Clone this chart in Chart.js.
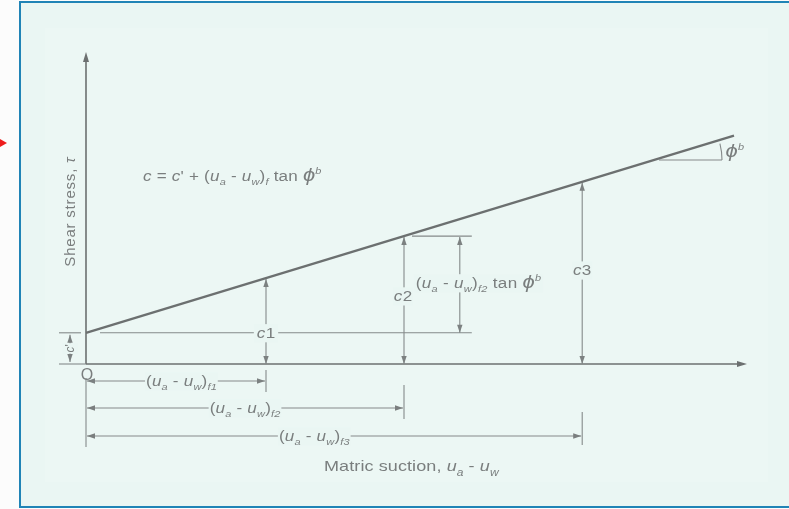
<!DOCTYPE html>
<html>
<head>
<meta charset="utf-8">
<script src="https://cdn.jsdelivr.net/npm/chart.js@4.4.1/dist/chart.umd.min.js"></script>
<style>
  html, body { margin: 0; padding: 0; background: #fcfcfc; }
  canvas { display: block; }
</style>
</head>
<body>
<canvas id="chart" width="789" height="509"></canvas>
<script>
// failure envelope: shear strength against matric suction
const suction = [0, 10.8];
const strength = [1.0, 7.32];
const cPrime = 1.0;
// the three marked states f1, f2, f3
const suctionMarks = [3.0, 5.3, 8.27];
const cohesionMarks = [2.755, 4.10, 5.84];
const markNames = ['1', '2', '3'];
const xMax = 11;
const yMax = 10;

const ink = '#7a7e7e';
const lineInk = '#6c7070';
const paper = '#eaf6f3';
const family = '"Liberation Sans", Arial, sans-serif';
const wide = 1.22; // lettering is drawn a bit wide

function fontFor(s, size) {
    if (s === 'sub' || s === 'sup') return `italic ${Math.round(size * 0.66)}px ${family}`;
    if (s === 'i') return `italic ${size}px ${family}`;
    if (s === 'big') return `italic ${Math.round(size * 1.25)}px ${family}`;
    return `${size}px ${family}`;
}

function offsetFor(s, size) {
    if (s === 'sub') return size * 0.3;
    if (s === 'sup') return -size * 0.5;
    return 0;
}

// runs of text with italic / subscript / superscript pieces
function runsWidth(ctx, runs, size, sp = 0, k = 1) {
    let w = 0;
    runs.forEach(([t, s]) => {
        ctx.font = fontFor(s, size);
        for (const ch of t) w += ctx.measureText(ch).width * k + sp;
    });
    return w - sp;
}

function drawRuns(ctx, runs, x, base, size, sp = 0, k = 1) {
    runs.forEach(([t, s]) => {
        ctx.font = fontFor(s, size);
        const dy = offsetFor(s, size);
        for (const ch of t) {
            ctx.save();
            ctx.translate(x, base + dy);
            ctx.scale(k, 1);
            ctx.fillText(ch, 0, 0);
            ctx.restore();
            x += ctx.measureText(ch).width * k + sp;
        }
    });
}

// centred label with a paper patch behind it so lines break around it
function label(ctx, runs, cx, cy, size, pad = 2, sp = 0, k = 1) {
    const w = runsWidth(ctx, runs, size, sp, k);
    ctx.fillStyle = paper;
    ctx.fillRect(cx - w / 2 - pad, cy - size * 0.62, w + pad * 2, size * 1.3);
    ctx.fillStyle = ink;
    drawRuns(ctx, runs, cx - w / 2, cy + size * 0.36, size, sp, k);
}

function head(ctx, x, y, dir, L = 8, W = 2.7) {
    ctx.beginPath();
    ctx.moveTo(x, y);
    if (dir === 'up') { ctx.lineTo(x - W, y + L); ctx.lineTo(x + W, y + L); }
    if (dir === 'down') { ctx.lineTo(x - W, y - L); ctx.lineTo(x + W, y - L); }
    if (dir === 'left') { ctx.lineTo(x + L, y - W); ctx.lineTo(x + L, y + W); }
    if (dir === 'right') { ctx.lineTo(x - L, y - W); ctx.lineTo(x - L, y + W); }
    ctx.closePath();
    ctx.fill();
}

function seg(ctx, x1, y1, x2, y2) {
    ctx.beginPath();
    ctx.moveTo(x1, y1);
    ctx.lineTo(x2, y2);
    ctx.stroke();
}

function dimV(ctx, x, top, bottom) {
    seg(ctx, x, top, x, bottom);
    head(ctx, x, top, 'up');
    head(ctx, x, bottom, 'down');
}

function dimH(ctx, left, right, y) {
    seg(ctx, left, y, right, y);
    head(ctx, left, y, 'left');
    head(ctx, right, y, 'right');
}

const suctionRuns = sub => [['(', ''], ['u', 'i'], ['a', 'sub'], [' - ', ''], ['u', 'i'], ['w', 'sub'], [')', ''], [sub, 'sub']];

const diagram = {
    id: 'diagram',
    beforeDraw(chart) {
        const ctx = chart.ctx;
        ctx.save();
        ctx.fillStyle = '#fcfcfc';
        ctx.fillRect(0, 0, chart.width, chart.height);
        ctx.fillStyle = paper;
        ctx.fillRect(21, 3, chart.width - 21, 503);
        ctx.fillStyle = '#ecf7f4';
        ctx.fillRect(45, 28, 723, 454);
        ctx.fillStyle = '#2084b6';
        ctx.fillRect(19, 1, chart.width - 19, 2);
        ctx.fillRect(19, 1, 2, 507);
        ctx.fillRect(19, 506, chart.width - 19, 2);
        // red pointer at the margin
        ctx.fillStyle = '#ee1c1c';
        ctx.beginPath();
        ctx.moveTo(-2, 138);
        ctx.lineTo(7, 143);
        ctx.lineTo(-2, 148);
        ctx.closePath();
        ctx.fill();
        ctx.restore();
    },
    beforeDatasetsDraw(chart) {
        const ctx = chart.ctx;
        const px = v => chart.scales.x.getPixelForValue(v);
        const py = v => chart.scales.y.getPixelForValue(v);
        const x0 = px(0), y0 = py(0), yc = py(cPrime);
        ctx.save();
        ctx.strokeStyle = lineInk;
        ctx.fillStyle = lineInk;

        // axes
        ctx.lineWidth = 1.6;
        seg(ctx, x0, y0, x0, py(yMax) + 4);
        head(ctx, x0, py(yMax), 'up', 10, 3);
        seg(ctx, x0, y0, px(xMax) - 4, y0);
        head(ctx, px(xMax) + 1, y0, 'right', 10, 3);

        ctx.lineWidth = 1.1;
        ctx.strokeStyle = '#858a8a';
        ctx.fillStyle = '#7c8181';
        // extension line below the origin
        seg(ctx, x0, y0 + 14, x0, y0 + 83);

        // c' dimension
        seg(ctx, x0 - 27, yc, x0 - 5, yc);
        seg(ctx, x0 - 27, y0, x0, y0);
        dimV(ctx, x0 - 16, yc + 2, y0 - 2);

        // c' reference level
        seg(ctx, x0 + 14, yc, px(6.43), yc);

        // c1, c2, c3 from the axis up to the envelope
        suctionMarks.forEach((s, i) => dimV(ctx, px(s), py(cohesionMarks[i]) + 1, y0));

        // suction increment above c' at f2
        const xInc = px(6.23);
        seg(ctx, px(suctionMarks[1]) + 8, py(cohesionMarks[1]), px(6.43), py(cohesionMarks[1]));
        dimV(ctx, xInc, py(cohesionMarks[1]) + 1, yc);

        // angle marker at the end of the envelope
        const sA = 9.55, sB = 10.6;
        const slope = (strength[1] - strength[0]) / (suction[1] - suction[0]);
        const yA = py(strength[0] + slope * (sA - suction[0]));
        const r = px(sB) - px(sA);
        seg(ctx, px(sA), yA + 1.5, px(sB), yA + 1.5);
        const ang = Math.atan2(py(0) - py(slope), px(1) - px(0));
        ctx.beginPath();
        ctx.arc(px(sA) - 3, yA + 1.5, r + 3, -ang * 0.85, 0);
        ctx.stroke();

        // suction dimensions below the axis
        const rows = [381, 408, 436];
        const ticks = [[370, 392], [385, 419], [412, 445]];
        const labelAt = [0.53, 0.5, 0.46];
        suctionMarks.forEach((s, i) => {
            seg(ctx, px(s), ticks[i][0], px(s), ticks[i][1]);
            dimH(ctx, x0 + 1, px(s) - 1, rows[i]);
            label(ctx, suctionRuns('f' + markNames[i]), px(s * labelAt[i]), rows[i], 14, 1, 0.2, wide);
        });

        // c labels
        label(ctx, [['c', 'i'], ['1', '']], px(suctionMarks[0]), yc, 14, 3, 0.3, wide);
        label(ctx, [['c', 'i'], ['2', '']], px(suctionMarks[1]) - 1, py(2.18), 14, 1, 0.3, wide);
        label(ctx, [['c', 'i'], ['3', '']], px(suctionMarks[2]), py(3.01), 14, 1, 0.3, wide);
        label(ctx, suctionRuns('f2').concat([[' tan ', ''], ['ϕ', 'big'], ['b', 'sup']]),
            px(6.54), py(2.6), 14, 2, 0.3, wide);

        // c' label, turned
        ctx.save();
        ctx.translate(x0 - 16, (yc + y0) / 2);
        ctx.rotate(-Math.PI / 2);
        label(ctx, [['c', 'i'], ["'", '']], 0, 0, 12, 1);
        ctx.restore();

        ctx.fillStyle = ink;
        // envelope equation
        drawRuns(ctx, [['c', 'i'], [' = ', ''], ['c', 'i'], ["' + (", ''], ['u', 'i'], ['a', 'sub'], [' - ', ''], ['u', 'i'], ['w', 'sub'],
            [')', ''], ['f', 'sub'], [' tan ', ''], ['ϕ', 'big'], ['b', 'sup']], 143, 181, 14, 0.2, wide);
        // angle symbol
        drawRuns(ctx, [['ϕ', 'big'], ['b', 'sup']], px(10.66), 157, 14, 0.3, wide);

        // origin
        ctx.font = `16px ${family}`;
        ctx.textAlign = 'center';
        ctx.fillText('O', x0 + 1, y0 + 16);
        ctx.textAlign = 'left';

        // axis titles
        drawRuns(ctx, [['Matric suction, ', ''], ['u', 'i'], ['a', 'sub'], [' - ', ''], ['u', 'i'], ['w', 'sub']], 324, 471, 15, 0.1, 1.2);
        ctx.save();
        ctx.translate(75, 212);
        ctx.rotate(-Math.PI / 2);
        const yt = [['Shear stress, ', ''], ['τ', 'i']];
        drawRuns(ctx, yt, -runsWidth(ctx, yt, 15, 0.8) / 2, 0, 15, 0.8);
        ctx.restore();

        ctx.restore();
    }
};

new Chart(document.getElementById('chart'), {
    type: 'scatter',
    data: {
        datasets: [{
            data: suction.map((s, i) => ({x: s, y: strength[i]})),
            showLine: true,
            borderColor: lineInk,
            borderWidth: 2.4,
            pointRadius: 0,
            clip: false
        }]
    },
    options: {
        responsive: false,
        animation: false,
        events: [],
        layout: {padding: {left: 86, right: 43, top: 52, bottom: 145}},
        scales: {
            x: {type: 'linear', min: 0, max: xMax, display: false},
            y: {type: 'linear', min: 0, max: yMax, display: false}
        },
        plugins: {legend: {display: false}, tooltip: {enabled: false}}
    },
    plugins: [diagram]
});
</script>
</body>
</html>
